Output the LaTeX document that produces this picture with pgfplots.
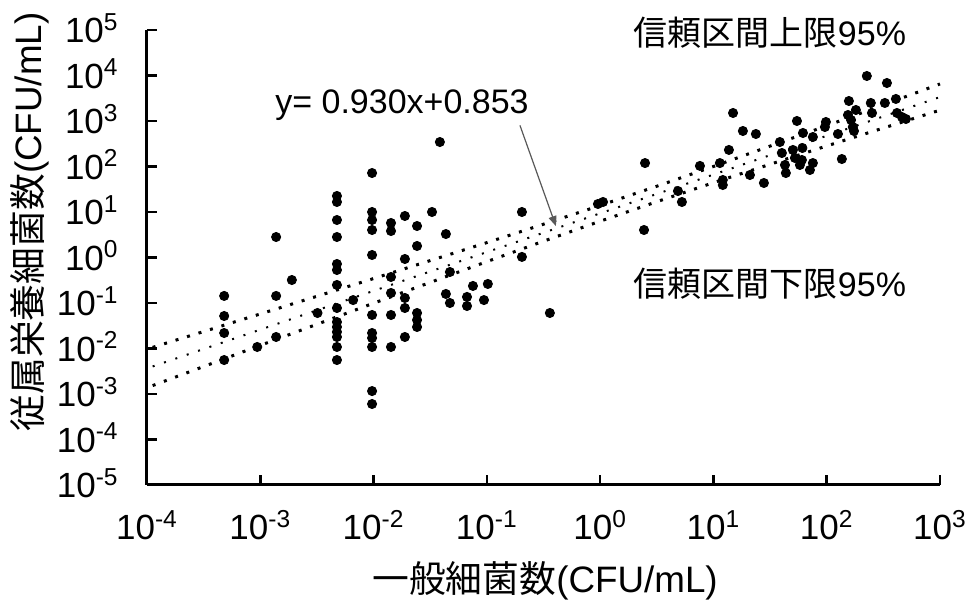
\documentclass[border=0pt]{standalone}
\usepackage{pgfplots}
\pgfplotsset{compat=1.18}
\usepackage{fontspec}
\setmainfont{Liberation Sans}
\newfontfamily\cjk{Noto Sans CJK JP}
\usetikzlibrary{arrows.meta}

\begin{document}
\begin{tikzpicture}
% picture box (1 reference pixel = 0.5pt), axis corner at (0,0)
\useasboundingbox (-73.5pt,-59pt) rectangle (410.5pt,242.5pt);
\begin{axis}[
  at={(0pt,0pt)}, anchor=south west,
  scale only axis, width=396.5pt, height=227.5pt,
  xmode=log, ymode=log,
  xmin=1e-4, xmax=1e3, ymin=1e-5, ymax=1e5,
  clip=false,
  axis x line*=bottom, axis y line*=left,
  axis line style={-, line width=1.5pt},
  tick align=inside,
  major tick length=5pt,
  minor tick length=0pt,
  xtick={1e-4,1e-3,1e-2,1e-1,1,1e1,1e2,1e3},
  ytick={1e-5,1e-4,1e-3,1e-2,1e-1,1,1e1,1e2,1e3,1e4,1e5},
  xticklabels={10\textsuperscript{-4},10\textsuperscript{-3},10\textsuperscript{-2},10\textsuperscript{-1},10\textsuperscript{0},10\textsuperscript{1},10\textsuperscript{2},10\textsuperscript{3}},
  yticklabels={10\textsuperscript{-5},10\textsuperscript{-4},10\textsuperscript{-3},10\textsuperscript{-2},10\textsuperscript{-1},10\textsuperscript{0},10\textsuperscript{1},10\textsuperscript{2},10\textsuperscript{3},10\textsuperscript{4},10\textsuperscript{5}},
  ticklabel style={font=\fontsize{17.5}{20}\selectfont},
  xticklabel style={anchor=base, inner sep=0pt, yshift=-27.5pt},
  yticklabel style={anchor=base east, inner sep=0pt, xshift=-14pt, yshift=-6.3pt},
]
% measurements
\addplot[only marks, mark=*, mark size=2.3pt, black] coordinates {
(0.00048,0.143) (0.00048,0.0518) (0.00048,0.0219) (0.00048,0.00558)
(0.00138,2.82) (0.00138,0.143) (0.00138,0.0179) (0.0019,0.32)
(0.00094,0.0108) (0.0032,0.0603)
(0.00475,22.5) (0.00475,16.6) (0.00475,6.67) (0.00475,2.82) (0.00475,0.72)
(0.00475,0.531) (0.00475,0.249) (0.00475,0.0776) (0.00475,0.0382) (0.00475,0.0297)
(0.00475,0.0231) (0.00475,0.0179) (0.00475,0.0108) (0.00475,0.00558)
(0.0066,0.116)
(0.0097,71.9) (0.0097,10) (0.0097,6.67) (0.0097,4.02) (0.0097,1.135)
(0.0097,0.0545) (0.0097,0.0219) (0.0097,0.017) (0.0097,0.0108) (0.0097,0.00116) (0.0097,0.000603)
(0.01425,5.73) (0.01425,3.82) (0.01425,0.373) (0.01425,0.166) (0.01425,0.0545) (0.01425,0.0108)
(0.0189,8.17) (0.0189,0.927) (0.0189,0.129) (0.0189,0.0776) (0.0189,0.0179)
(0.0242,4.92) (0.0242,1.79) (0.0242,0.0603) (0.0242,0.0423) (0.0242,0.0297)
(0.0328,10.0) (0.0385,345) (0.0435,3.28) (0.0472,0.48) (0.0435,0.158) (0.0472,0.1)
(0.0668,0.136) (0.0668,0.0859) (0.0754,0.237) (0.102,0.262) (0.0943,0.116)
(0.204,10.0) (0.204,1.03) (0.36,0.0603) (0.956,15.0) (1.06,16.6)
(2.49,119) (2.44,4.02) (4.86,28.9) (5.27,16.6) (7.6,103) (11.4,119)
(12.1,50.5) (12.1,39.2) (13.7,231) (14.9,1500) (18.2,603) (23.7,518)
(21.0,65.0) (27.9,43.4) (38.6,345) (40.2,198) (42.8,108) (43.6,71.9)
(50.3,231) (54.6,1000) (61.7,545) (60.4,139) (61,255) (71.1,83.8) (75.5,119)
(75.5,445) (52.4,154) (58.0,108) (96.4,738) (98.4,951) (125.6,518) (136,146)
(157,2750) (154,1355) (164,1052) (170,738) (174,603) (181,1745) (226,9750)
(245,2490) (251,1500) (340,6840) (326,2490) (408,3050) (417,1500) (461,1225) (500,1107)
};
% upper bound
\addplot[black, line width=1.5pt, dash pattern=on 1.5pt off 4.5pt] coordinates {
(1.122e-4,0.01059) (0.001,0.0574) (0.01,0.3443) (0.1,2.123) (0.3162,5.38)
(1,13.90) (3.162,36.8) (10,100) (100,787) (1000,6516)
};
% regression
\addplot[black, line width=1pt, dash pattern=on 1pt off 5pt] coordinates {
(1.122e-4,0.004027) (1000,3357)
};
% lower bound
\addplot[black, line width=1.5pt, dash pattern=on 1.5pt off 4.5pt] coordinates {
(1.122e-4,0.001531) (0.001,0.01172) (0.01,0.0989) (0.1,0.811) (0.3162,2.28)
(1,6.266) (3.162,16.8) (10,44.06) (100,283.1) (1000,1730)
};
\draw[black!65, line width=0.6pt, -{Triangle[length=5pt,width=4pt]}]
  (axis cs:0.196,800) -- (axis cs:0.407,4.9);
% tick stubs pointing into the plot
\pgfplotsinvokeforeach{-4,...,3}{
  \draw[black, line width=1.3pt] (axis cs:1e#1,1e-5) -- ++(0pt,5pt);
}
\pgfplotsinvokeforeach{-5,...,5}{
  \draw[black, line width=1.3pt] (axis cs:1e-4,1e#1) -- ++(5pt,0pt);
}
\end{axis}
\node[font=\fontsize{17}{20}\selectfont] at (311.5pt,226pt) {{\cjk 信頼区間上限}95\%};
\node[font=\fontsize{17}{20}\selectfont] at (311.5pt,100.5pt) {{\cjk 信頼区間下限}95\%};
\node[font=\fontsize{17}{20}\selectfont] at (127.5pt,190pt) {y= 0.930x+0.853};
\node[font=\fontsize{18.4}{22}\selectfont] at (199pt,-48pt) {{\cjk 一般細菌数}(CFU/mL)};
\node[font=\fontsize{18.4}{22}\selectfont, rotate=90] at (-58.5pt,131.5pt) {{\cjk 従属栄養細菌数}(CFU/mL)};
\end{tikzpicture}
\end{document}
